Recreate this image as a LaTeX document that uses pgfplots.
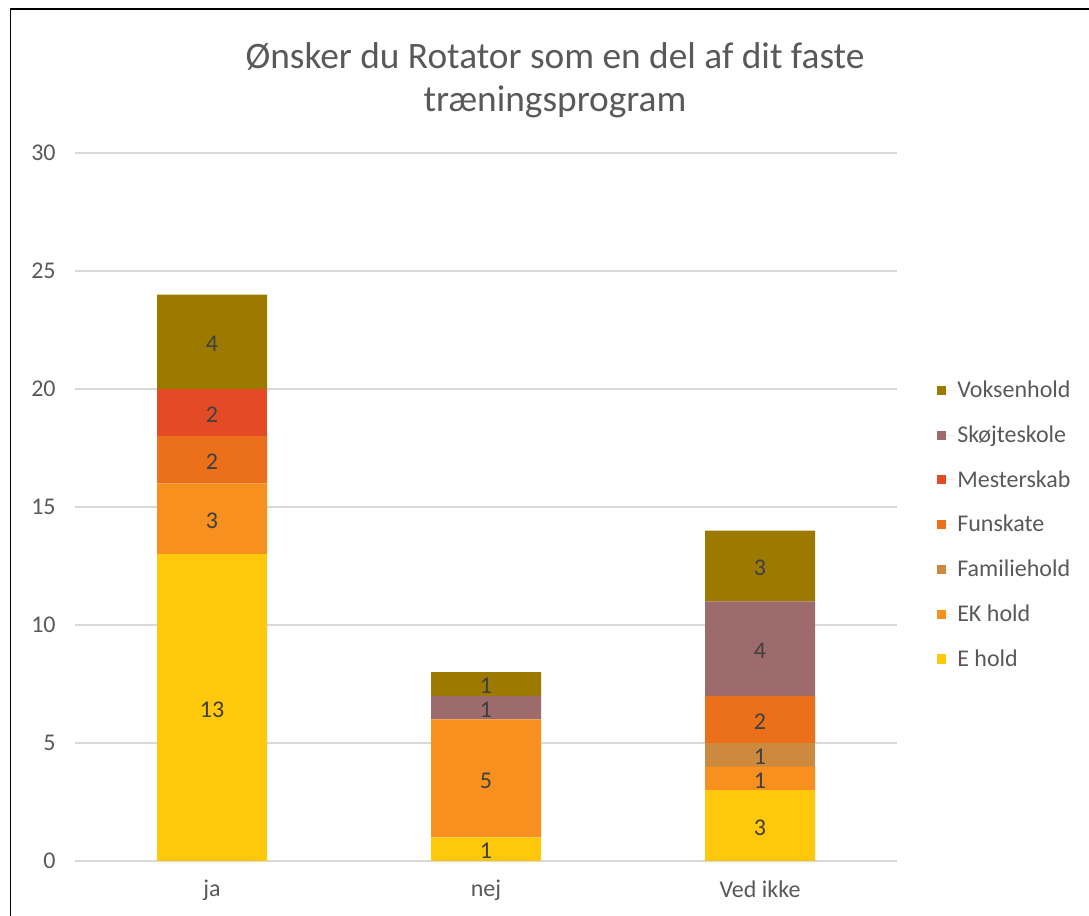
\documentclass[border=0pt]{standalone}
\usepackage{pgfplots}
\pgfplotsset{compat=1.18}
\usepackage{fontspec}
\setmainfont{Carlito}
\definecolor{cE}{HTML}{FFC80A}
\definecolor{cEK}{HTML}{F7901E}
\definecolor{cFam}{HTML}{CD8A3F}
\definecolor{cFun}{HTML}{EB7019}
\definecolor{cMes}{HTML}{E44A25}
\definecolor{cSko}{HTML}{9D6B6B}
\definecolor{cVok}{HTML}{9C7A00}
\definecolor{txt}{HTML}{595959}
\definecolor{lbl}{HTML}{404040}
\definecolor{gridc}{HTML}{D9D9D9}
\begin{document}
\begin{tikzpicture}
\useasboundingbox (0,0) rectangle (816.75pt,687pt);
\draw[line width=1.4pt] (7.9pt,0) -- (7.9pt,680.25pt) -- (816.75pt,680.25pt);
\node[text=txt, align=center, font=\fontsize{28}{32}\selectfont] at (416.25pt,627pt) {Ønsker du Rotator som en del af dit faste\\træningsprogram};
\begin{axis}[
  at={(56.25pt,41.25pt)}, anchor=south west,
  scale only axis, width=616.5pt, height=531pt,
  ybar stacked, bar width=82.5pt,
  xmin=-0.5, xmax=2.5, ymin=0, ymax=30,
  xtick={0,1,2}, xticklabels={ja,nej,Ved ikke},
  ytick={0,5,10,15,20,25,30},
  axis line style={draw=none}, tick style={draw=none},
  ymajorgrids, major grid style={color=gridc, line width=0.9pt},
  ticklabel style={text=txt, font=\fontsize{18}{20}\selectfont},
  /pgf/number format/assume math mode=true,
  yticklabel style={xshift=-11pt},
  xticklabel style={yshift=-11pt},
  point meta=explicit symbolic,
  nodes near coords,
  every node near coord/.append style={anchor=center, yshift=-1.5pt, text=lbl, font=\fontsize{18}{20}\selectfont},
  reverse legend,
  legend style={at={(axis description cs:1.043,0.686)}, anchor=north west, draw=none, fill=none,
    font=\fontsize{18}{20}\selectfont, text=txt, row sep=15.6pt},
  legend cell align=left,
  legend image code/.code={\fill[#1] (0pt,-3.4pt) rectangle (6.9pt,3.4pt); \path (0pt,0pt) -- (13.5pt,0pt);},
]
\addplot[fill=cE, draw=none] coordinates {(0,13)[13] (1,1)[1] (2,3)[3]};
\addlegendentry{E hold}
\addplot[fill=cEK, draw=none] coordinates {(0,3)[3] (1,5)[5] (2,1)[1]};
\addlegendentry{EK hold}
\addplot[fill=cFam, draw=none] coordinates {(0,0)[] (1,0)[] (2,1)[1]};
\addlegendentry{Familiehold}
\addplot[fill=cFun, draw=none] coordinates {(0,2)[2] (1,0)[] (2,2)[2]};
\addlegendentry{Funskate}
\addplot[fill=cMes, draw=none] coordinates {(0,2)[2] (1,0)[] (2,0)[]};
\addlegendentry{Mesterskab}
\addplot[fill=cSko, draw=none] coordinates {(0,0)[] (1,1)[1] (2,4)[4]};
\addlegendentry{Skøjteskole}
\addplot[fill=cVok, draw=none] coordinates {(0,4)[4] (1,1)[1] (2,3)[3]};
\addlegendentry{Voksenhold}
\end{axis}
\end{tikzpicture}
\end{document}
